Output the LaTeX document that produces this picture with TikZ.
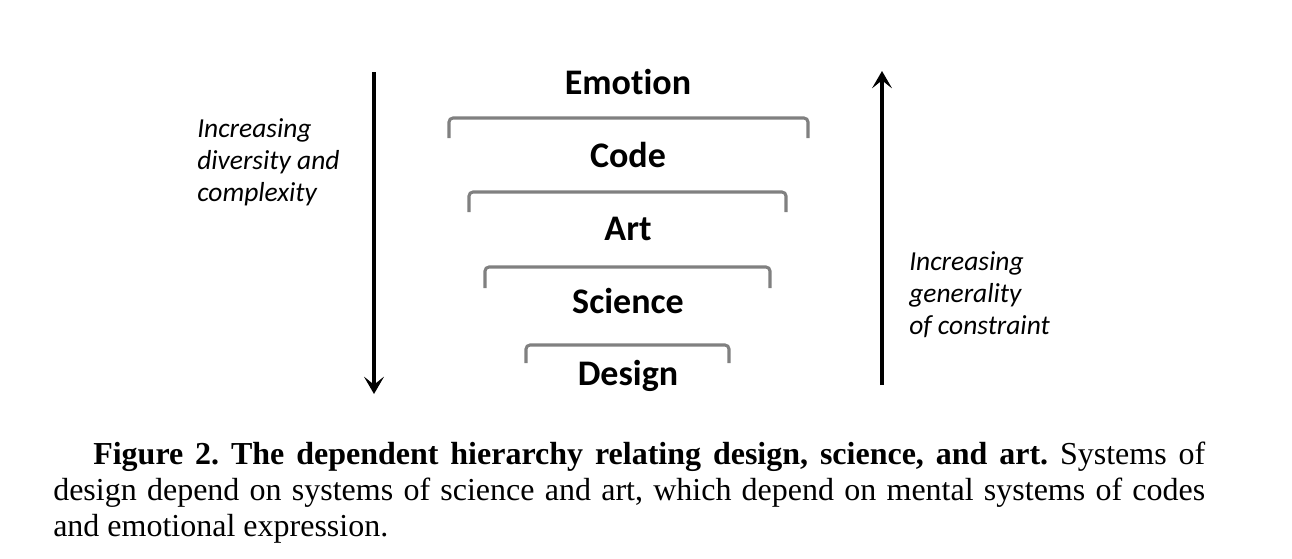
\documentclass[tikz,border=0pt]{standalone}
\usepackage{fontspec}
\setmainfont{Liberation Serif}
\newfontfamily\calfont[Ligatures=CommonOff]{Carlito}
\usetikzlibrary{positioning,arrows.meta}

\begin{document}
\begin{tikzpicture}[x=0.75pt, y=-0.75pt,
    level/.style={font=\calfont\bfseries\fontsize{27}{32}\selectfont, anchor=base, inner sep=0pt},
    sidenote/.style={font=\calfont\itshape\fontsize{20.6}{24}\selectfont, align=left, anchor=north west, inner sep=0pt},
    bracket/.style={draw=gray, line width=2.3pt, rounded corners=3pt},
    trend/.style={line width=2.6pt, -{Stealth[length=13pt, width=15pt, inset=6pt]}}]
  \useasboundingbox (0,0) rectangle (1292,558);

  % the five levels
  \node[level] (emotion) at (628,94) {Emotion};
  \node[level] (code) at (628,167) {Code};
  \node[level] (art) at (628,240) {Art};
  \node[level] (science) at (628,313) {Science};
  \node[level] (design) at (628,385) {Design};

  % brackets between the levels
  \foreach \l/\r/\t/\b in {449/808/118/138, 469/786/192/212, 485/770/267/288, 526/729/345/363}
    \draw[bracket] (\l,\b) -- (\l,\t) -- (\r,\t) -- (\r,\b);

  % side arrows
  \coordinate (downtop) at (374,72);
  \coordinate (downend) at (374,394);
  \coordinate (upbot) at (882,385);
  \coordinate (uptop) at (882,71);
  \draw[trend] (downtop) -- (downend);
  \draw[trend] (upbot) -- (uptop);

  \node[sidenote] (diversity) at (197,118) {Increasing\\diversity and\\complexity};
  \node[sidenote] (generality) at (909,251) {Increasing\\generality\\of constraint};

  % caption
  \node[anchor=north west, inner sep=0pt, text width=864pt, align=justify,
        font=\fontsize{24}{27}\selectfont\frenchspacing] (caption) at (53,442)
    {\hspace*{30pt}\textbf{Figure 2. The dependent hierarchy relating design, science, and art.} Systems of\linebreak
     design depend on systems of science and art, which depend on mental systems of codes\linebreak
     and emotional expression.};
\end{tikzpicture}
\end{document}
